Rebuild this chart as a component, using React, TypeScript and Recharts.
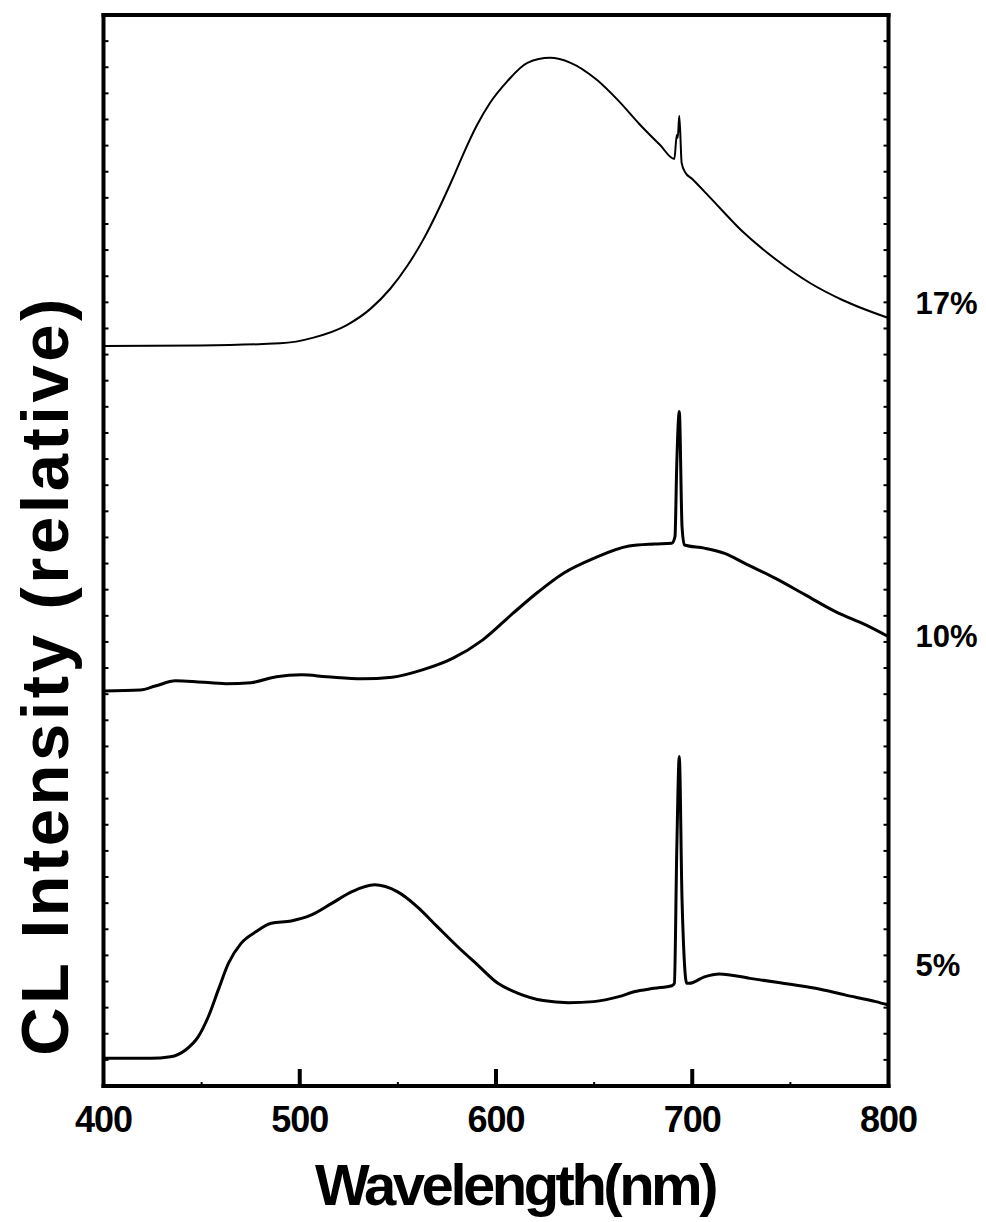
import React from 'react';
import { LineChart, Line, XAxis, YAxis, ReferenceLine, ReferenceDot, Label } from 'recharts';

// Wavelength (nm) / relative CL intensity
const wl17 = [400, 449, 490, 507, 524, 536, 546, 555, 563, 571.5, 578, 583, 590, 597, 605.5, 616, 627.5, 638, 651.5, 662, 673.5, 683.5, 690.9, 692.1, 692.6, 693.4, 694.6, 696.3, 700, 709, 725.5, 743, 760, 776.5, 800];
const int17 = [28.33, 28.35, 28.43, 28.65, 29.13, 29.75, 30.51, 31.42, 32.41, 33.68, 34.75, 35.62, 36.74, 37.64, 38.44, 39.17, 39.36, 39.17, 38.51, 37.75, 36.79, 36.03, 35.49, 36.41, 36.29, 37.14, 35.34, 34.99, 34.72, 34.02, 32.72, 31.62, 30.74, 30.09, 29.4];

const wl10 = [400, 418.8, 426.4, 436.7, 447, 462.4, 475.2, 488.1, 500.9, 513.7, 531.7, 547.1, 562.5, 577.9, 593.3, 608.7, 621.6, 634.4, 649.8, 667.8, 680.6, 689.6, 691.2, 692.1, 693.4, 694.8, 696, 706.2, 716.5, 726.8, 742.2, 757.6, 773, 788.4, 800];
const int10 = [15.12, 15.16, 15.31, 15.51, 15.48, 15.4, 15.44, 15.67, 15.74, 15.67, 15.59, 15.65, 15.93, 16.37, 17.08, 18.1, 18.92, 19.63, 20.2, 20.67, 20.75, 20.78, 21.03, 23.77, 25.82, 21.41, 20.71, 20.59, 20.39, 20.01, 19.44, 18.8, 18.16, 17.65, 17.2];

const wl5 = [400, 423.9, 434.1, 441.8, 448.3, 453.4, 458.5, 463.7, 470.1, 477.8, 485.5, 495.7, 506, 516.3, 526.6, 538.1, 549.7, 559.9, 570.2, 580.5, 590.7, 601, 611.3, 624.1, 636.9, 649.8, 662.6, 670.3, 680.6, 689.6, 690.9, 692.1, 693.4, 694.8, 697.2, 698.5, 706.2, 713.9, 729.4, 744.8, 762.8, 778.2, 793.5, 800];
const int5 = [1.06, 1.06, 1.12, 1.38, 1.89, 2.65, 3.68, 4.7, 5.46, 5.91, 6.23, 6.32, 6.55, 6.99, 7.44, 7.7, 7.44, 6.86, 6.09, 5.33, 4.63, 3.93, 3.55, 3.27, 3.19, 3.23, 3.42, 3.61, 3.74, 3.84, 3.93, 8.97, 12.61, 7.12, 3.93, 3.93, 4.18, 4.29, 4.12, 3.95, 3.74, 3.48, 3.23, 3.1];

const seriesLabels = ['17%', '10%', '5%'];
const labelLevels = [29.98, 17.23, 4.63];

const xTicks = [400, 450, 500, 550, 600, 650, 700, 750, 800];
const majorXTicks = [400, 500, 600, 700, 800];
const yTicks = [0, 1, 2, 3, 4, 5, 6, 7, 8, 9, 10, 11, 12, 13, 14, 15, 16, 17, 18, 19, 20, 21, 22, 23, 24, 25, 26, 27, 28, 29, 30, 31, 32, 33, 34, 35, 36, 37, 38, 39, 40, 41];
const yDomain = [0, 41];

const xTitle = 'Wavelength(nm)';
const yTitle = 'CL Intensity (relative)';

const FONT = '"Liberation Sans", Arial, Helvetica, sans-serif';

const build = (xs: number[], ys: number[]) => xs.map((w, i) => ({ wl: w, v: ys[i] }));
const data17 = build(wl17, int17);
const data10 = build(wl10, int10);
const data5 = build(wl5, int5);
const allSeries = [
  { key: 's17', data: data17, width: 2 },
  { key: 's10', data: data10, width: 3 },
  { key: 's5', data: data5, width: 3 },
];

const XTick = (props: any) => {
  const { x, y, payload } = props;
  const v = payload.value;
  const major = majorXTicks.includes(v);
  const edge = v === 400 || v === 800;
  return (
    <g>
      {!edge && (
        <line x1={x} x2={x} y1={y} y2={y - (major ? 17 : 4)} stroke="#000" strokeWidth={major ? 4 : 2} />
      )}
      {major && (
        <text x={x} y={y + 33} textAnchor="middle" dominantBaseline="central" fontSize={36} fontWeight="bold" fontFamily={FONT} letterSpacing={-1} fill="#000">
          {v}
        </text>
      )}
    </g>
  );
};

const LeftTick = (props: any) => {
  const { x, y, payload } = props;
  if (payload.value === yDomain[0] || payload.value === yDomain[1]) return <g />;
  return <line x1={x} x2={x + 5} y1={y} y2={y} stroke="#000" strokeWidth={2} />;
};

const RightTick = (props: any) => {
  const { x, y, payload } = props;
  if (payload.value === yDomain[0] || payload.value === yDomain[1]) return <g />;
  return <line x1={x} x2={x - 5} y1={y} y2={y} stroke="#000" strokeWidth={2} />;
};

const YTitle = (props: any) => {
  const vb = props.viewBox || { x: 0, y: 7, width: 95.5, height: 1071 };
  const cx = vb.x + 36;
  const cy = vb.y + vb.height / 2 + 125;
  return (
    <text x={cx} y={cy} transform={`rotate(-90, ${cx}, ${cy})`} textAnchor="middle" dominantBaseline="central" fontSize={67} fontWeight="bold" fontFamily={FONT} letterSpacing={3.5} fill="#000">
      {yTitle}
    </text>
  );
};

const XTitle = (props: any) => {
  const vb = props.viewBox || { x: 95.5, y: 1078, width: 785, height: 136 };
  const cx = vb.x + vb.width / 2 + 19;
  const cy = vb.y + 98;
  return (
    <text x={cx} y={cy} textAnchor="middle" dominantBaseline="central" fontSize={58} fontWeight="bold" fontFamily={FONT} letterSpacing={-3.5} fill="#000">
      {xTitle}
    </text>
  );
};

const axisLineStyle = { stroke: '#000', strokeWidth: 4, strokeLinecap: 'square' as const };

export default function App() {
  return (
    <div style={{ width: 970, height: 1214, background: '#fff' }}>
      <LineChart width={970} height={1214} margin={{ top: 7, right: 0, bottom: 0, left: 0 }}>
        <XAxis
          dataKey="wl"
          type="number"
          domain={[400, 800]}
          ticks={xTicks}
          interval={0}
          height={136}
          axisLine={axisLineStyle}
          tickLine={false}
          tickSize={0}
          tickMargin={0}
          tick={<XTick />}
          allowDataOverflow
        >
          <Label content={<XTitle />} />
        </XAxis>
        <YAxis
          yAxisId="left"
          type="number"
          domain={yDomain}
          ticks={yTicks}
          interval={0}
          width={95.5}
          axisLine={axisLineStyle}
          tickLine={false}
          tickSize={0}
          tickMargin={0}
          tick={<LeftTick />}
          allowDataOverflow
        >
          <Label content={<YTitle />} />
        </YAxis>
        <YAxis
          yAxisId="right"
          orientation="right"
          type="number"
          domain={yDomain}
          ticks={yTicks}
          interval={0}
          width={89.5}
          axisLine={axisLineStyle}
          tickLine={false}
          tickSize={0}
          tickMargin={0}
          tick={<RightTick />}
          allowDataOverflow
        />
        <ReferenceLine yAxisId="left" y={yDomain[1]} stroke="#000" strokeWidth={4} strokeLinecap="square" />
        {allSeries.map((s) => (
          <Line
            key={s.key}
            yAxisId="left"
            data={s.data}
            dataKey="v"
            type="monotone"
            stroke="#000"
            strokeWidth={s.width}
            dot={false}
            activeDot={false}
            isAnimationActive={false}
          />
        ))}
        {seriesLabels.map((lab, i) => (
          <ReferenceDot
            key={lab}
            yAxisId="left"
            x={800}
            y={labelLevels[i]}
            r={0}
            fill="none"
            stroke="none"
            ifOverflow="visible"
            label={{ value: lab, position: 'right', offset: 27, fontSize: 31, fontWeight: 'bold', fontFamily: FONT, fill: '#000' }}
          />
        ))}
      </LineChart>
    </div>
  );
}
